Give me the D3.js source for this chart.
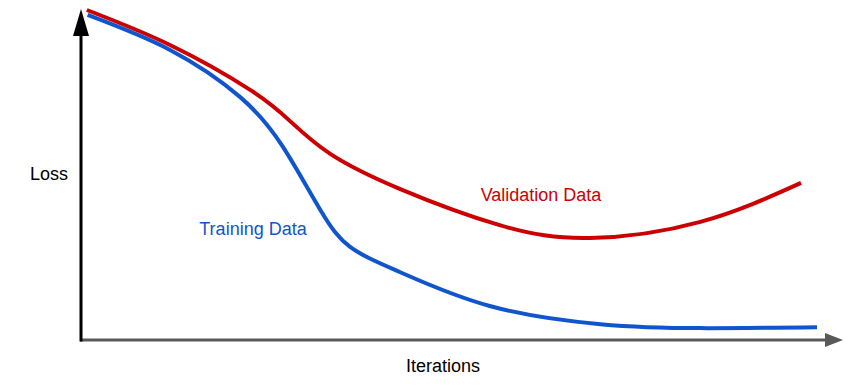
<!DOCTYPE html>
<html>
<head>
<meta charset="utf-8">
<script src="https://cdn.jsdelivr.net/npm/d3@7"></script>
<style>
  body { margin: 0; background: #fff; }
  text { font-family: "Liberation Sans", Arial, sans-serif; }
</style>
</head>
<body>
<div id="chart"></div>
<script>
var w = 857;
var h = 386;

// iteration (0-100) and loss (0-100)
var validationX = [0.9, 11.8, 22.3, 27.5, 32.8, 41.9, 55.0, 66.8, 81.3, 94.5];
var validationY = [100, 89.4, 75.8, 66.4, 56.4, 45.8, 34.8, 30.9, 35.8, 47.6];
var trainingX = [1.0, 11.8, 21.0, 26.6, 31.5, 35.4, 41.9, 53.7, 68.2, 81.3, 96.6];
var trainingY = [98.5, 87.9, 73.6, 58.5, 39.4, 28.2, 20.6, 10.3, 4.8, 3.6, 3.9];

var seriesNames = ["Validation Data", "Training Data"];
var axisLabels = ["Loss", "Iterations"];

var red = "#cc0000";
var blue = "#1155cc";

var svg = d3.select("#chart")
	.append("svg")
	.attr("width", w)
	.attr("height", h);

var x = d3.scaleLinear().domain([0, 100]).range([80, 843]);
var y = d3.scaleLinear().domain([0, 100]).range([340, 10]);

var line = d3.line()
	.x(function (d) { return x(d[0]); })
	.y(function (d) { return y(d[1]); })
	.curve(d3.curveNatural);

//x axis (grey, with arrow)
svg.append("line")
	.attr("x1", x(0))
	.attr("x2", 826)
	.attr("y1", y(0))
	.attr("y2", y(0))
	.attr("stroke", "#595959")
	.attr("stroke-width", 3);
svg.append("path")
	.attr("d", "M825," + (y(0) - 7) + "L843," + y(0) + "L825," + (y(0) + 7) + "Z")
	.attr("fill", "#595959");

//y axis (black, with arrow)
svg.append("line")
	.attr("x1", 81)
	.attr("x2", 81)
	.attr("y1", y(0) + 1.5)
	.attr("y2", 34)
	.attr("stroke", "#000")
	.attr("stroke-width", 3);
svg.append("path")
	.attr("d", "M73,36L81,9L89,36Z")
	.attr("fill", "#000");

var validation = validationX.map(function (v, i) { return [v, validationY[i]]; });
var training = trainingX.map(function (v, i) { return [v, trainingY[i]]; });

svg.append("path")
	.datum(validation)
	.attr("d", line)
	.attr("fill", "none")
	.attr("stroke", red)
	.attr("stroke-width", 4);

svg.append("path")
	.datum(training)
	.attr("d", line)
	.attr("fill", "none")
	.attr("stroke", blue)
	.attr("stroke-width", 4);

svg.append("text")
	.attr("x", 541)
	.attr("y", 201)
	.attr("text-anchor", "middle")
	.attr("font-size", "18px")
	.attr("fill", red)
	.text(seriesNames[0]);

svg.append("text")
	.attr("x", 253)
	.attr("y", 235)
	.attr("text-anchor", "middle")
	.attr("font-size", "18px")
	.attr("fill", blue)
	.text(seriesNames[1]);

svg.append("text")
	.attr("x", 49)
	.attr("y", 180)
	.attr("text-anchor", "middle")
	.attr("font-size", "18px")
	.attr("fill", "#000")
	.text(axisLabels[0]);

svg.append("text")
	.attr("x", 443)
	.attr("y", 372)
	.attr("text-anchor", "middle")
	.attr("font-size", "18px")
	.attr("fill", "#000")
	.text(axisLabels[1]);
</script>
</body>
</html>
